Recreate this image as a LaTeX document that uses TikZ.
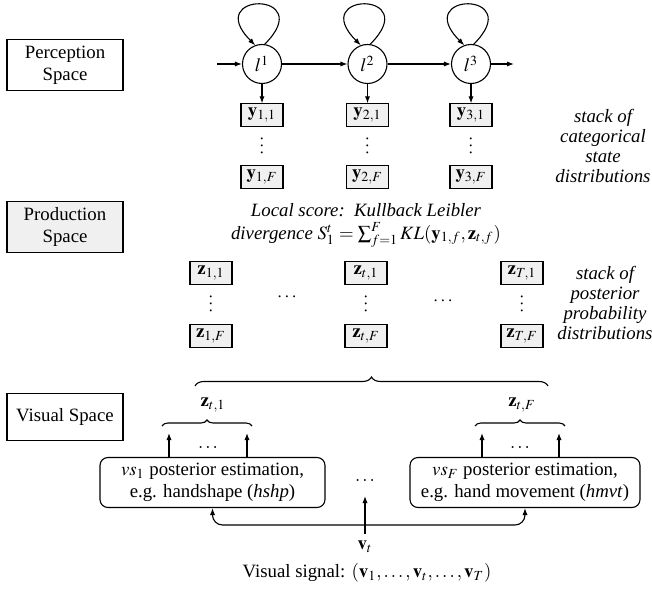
\documentclass[tikz,border=0pt]{standalone}
\usepackage{mathptmx}
\usepackage{fontspec}
\setmainfont{Liberation Serif}
\usetikzlibrary{arrows.meta,decorations.pathreplacing,calc}
\begin{document}
\begin{tikzpicture}[x=0.5pt,y=-0.5pt, line width=0.55pt,
  font=\fontsize{9.4}{11}\selectfont,
  >={Latex[length=3.5pt,width=2.6pt]},
  spacebox/.style={draw, minimum width=58pt, minimum height=25.5pt, align=center, inner sep=1pt},
  lstate/.style={draw, circle, minimum size=19.5pt, inner sep=0pt},
  vecbox/.style={draw, fill=black!6, minimum width=21pt, minimum height=11pt, inner sep=2pt},
  estbox/.style={draw, rounded corners=4pt, minimum height=25pt, align=center, inner sep=2pt},
  note/.style={align=center, font=\fontsize{9.4}{10}\selectfont\itshape},
  bracedeco/.style={decorate, decoration={brace, amplitude=#1}},
  vdotnode/.style={inner sep=0pt, rotate=90},
  loopline/.style={->}
]
\useasboundingbox (0,0) rectangle (652,593);

% space labels
\node[spacebox] (ps) at (65,65) {Perception\\Space};
\node[spacebox, fill=black!6] (prs) at (65,227) {Production\\Space};
\node[spacebox, minimum height=23.5pt] (vsp) at (65,417) {Visual Space};

% HMM states
\node[lstate] (l1) at (262,64) {$l^1$};
\node[lstate] (l2) at (367.5,64) {$l^2$};
\node[lstate] (l3) at (471,64) {$l^3$};
\coordinate (hin) at (217,64);
\coordinate (hout) at (514,64);
\draw[->] (hin) -- (l1);
\draw[->] (l1) -- (l2);
\draw[->] (l2) -- (l3);
\draw[->] (l3) -- (hout);
\foreach \s in {l1,l2,l3}{
  \draw[loopline] (\s.82) .. controls +(45:38pt) and +(135:38pt) .. (\s.110);
}

% y stacks
\node[vecbox] (y11) at (262,115) {$\mathbf{y}_{1,1}$};
\node[vecbox] (y1F) at (262,177) {$\mathbf{y}_{1,F}$};
\node[vdotnode] (yd1) at (262,146) {$\ldots$};
\node[vecbox] (y21) at (367.5,115) {$\mathbf{y}_{2,1}$};
\node[vecbox] (y2F) at (367.5,177) {$\mathbf{y}_{2,F}$};
\node[vdotnode] (yd2) at (367.5,146) {$\ldots$};
\node[vecbox] (y31) at (471,115) {$\mathbf{y}_{3,1}$};
\node[vecbox] (y3F) at (471,177) {$\mathbf{y}_{3,F}$};
\node[vdotnode] (yd3) at (471,146) {$\ldots$};
\draw[->] (l1) -- (y11);
\draw[->] (l2) -- (y21);
\draw[->] (l3) -- (y31);

\node[note] (t1) at (603,146) {stack of\\categorical\\state\\distributions};

% local score
\node[align=center, font=\fontsize{9.4}{11.5}\selectfont\itshape] (ls) at (366,225)
  {Local score:\ \ Kullback Leibler\\divergence $S_1^t=\sum_{f=1}^{F} KL(\mathbf{y}_{1,f},\mathbf{z}_{t,f})$};

% z stacks
\node[vecbox] (z11) at (211,273) {$\mathbf{z}_{1,1}$};
\node[vecbox] (z1F) at (211,336) {$\mathbf{z}_{1,F}$};
\node[vdotnode] (zd1) at (211,304) {$\ldots$};
\node[vecbox] (zt1) at (366,273) {$\mathbf{z}_{t,1}$};
\node[vecbox] (ztF) at (366,336) {$\mathbf{z}_{t,F}$};
\node[vdotnode] (zd2) at (366,304) {$\ldots$};
\node[vecbox] (zT1) at (522,273) {$\mathbf{z}_{T,1}$};
\node[vecbox] (zTF) at (522,336) {$\mathbf{z}_{T,F}$};
\node[vdotnode] (zd3) at (522,304) {$\ldots$};
\node (zh1) at (287,297) {$\cdots$};
\node (zh2) at (443,301) {$\cdots$};

\node[note] (t2) at (605,303) {stack of\\posterior\\probability\\distributions};

% big brace
\coordinate (bl) at (195,386);
\coordinate (br) at (548,386);
\draw[bracedeco=4.5pt] (bl) -- (br);

% small braces
\coordinate (s1l) at (162,426);
\coordinate (s1r) at (252,426);
\coordinate (s2l) at (475,426);
\coordinate (s2r) at (565,426);
\draw[bracedeco=3pt] (s1l) -- (s1r);
\draw[bracedeco=3pt] (s2l) -- (s2r);
\node (lz1) at (213,405) {$\mathbf{z}_{t,1}$};
\node (lzF) at (522,405) {$\mathbf{z}_{t,F}$};

% estimators
\node[estbox, minimum width=112.5pt] (vs1) at (212.5,482.5) {$vs_1$ posterior estimation,\\e.g. handshape (\textit{hshp})};
\node[estbox, minimum width=115pt] (vsF) at (525,482.5) {$vs_F$ posterior estimation,\\e.g. hand movement (\textit{hmvt})};
\node (dm) at (365,481) {$\dots$};

\coordinate (a1) at (169,433);
\coordinate (a2) at (247,433);
\coordinate (a3) at (482,433);
\coordinate (a4) at (559,433);
\draw[->] (a1 |- vs1.north) -- (a1);
\draw[->] (a2 |- vs1.north) -- (a2);
\draw[->] (a3 |- vsF.north) -- (a3);
\draw[->] (a4 |- vsF.north) -- (a4);
\node (d1) at (208,448) {$\dots$};
\node (d2) at (520,448) {$\dots$};

% visual signal
\node (vt) at (365,547) {$\mathbf{v}_t$};
\coordinate (vtt) at (365,496);
\draw[->] (vt) -- (vtt);
\coordinate (hline) at (0,525);
\draw[<->, rounded corners=5pt] (vs1.south) -- (vs1.south |- hline) -- (vsF.south |- hline) -- (vsF.south);

\node (vsig) at (367,573) {Visual signal: $(\mathbf{v}_1,\dots,\mathbf{v}_t,\dots,\mathbf{v}_T)$};
\end{tikzpicture}
\end{document}
